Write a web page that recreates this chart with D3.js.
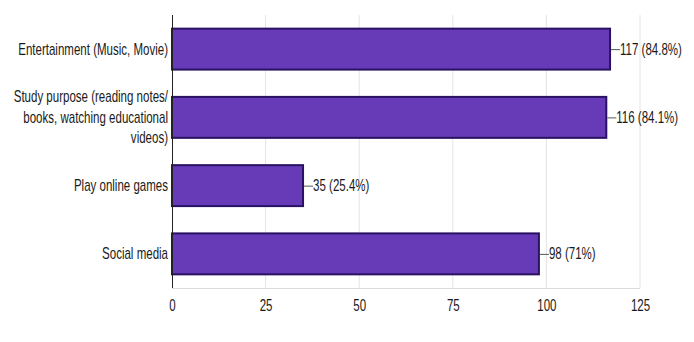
<!DOCTYPE html>
<html>
<head>
<meta charset="utf-8">
<script src="https://cdn.jsdelivr.net/npm/d3@7"></script>
<style>
  body { margin: 0; background: #fff; }
  text { font-family: "Liberation Sans", Arial, sans-serif; fill: #1a1a1a; }
</style>
</head>
<body>
<div id="chart"></div>
<script>
var w = 694;
var h = 342;
var squeeze = 0.72; // the picture's lettering is narrow
var fontSize = "16px";

// data
var categories = [
    ["Entertainment (Music, Movie)"],
    ["Study purpose (reading notes/", "books, watching educational", "videos)"],
    ["Play online games"],
    ["Social media"]
];
var counts = [117, 116, 35, 98];
var percents = ["84.8%", "84.1%", "25.4%", "71%"];
var xTicks = [0, 25, 50, 75, 100, 125];

var margin = {top: 15, right: 54, bottom: 54, left: 172};

var svg = d3.select("#chart")
    .append("svg")
    .attr("width", w)
    .attr("height", h);

var xScale = d3.scaleLinear()
    .domain([0, 125])
    .range([margin.left, w - margin.right]);

var yScale = d3.scaleBand()
    .domain(d3.range(categories.length))
    .range([margin.top, h - margin.bottom])
    .paddingInner(0.4)
    .paddingOuter(0.2);

// grid lines
svg.append("g")
    .selectAll("line")
    .data(xTicks.slice(1))
    .enter()
    .append("line")
    .attr("x1", d => xScale(d))
    .attr("x2", d => xScale(d))
    .attr("y1", margin.top)
    .attr("y2", h - margin.bottom)
    .attr("stroke", "#e4e4e4")
    .attr("stroke-width", 1);

svg.append("line")
    .attr("x1", margin.left)
    .attr("x2", xScale(125))
    .attr("y1", h - margin.bottom + 0.5)
    .attr("y2", h - margin.bottom + 0.5)
    .attr("stroke", "#dcdcdc");

// x axis
var xAxis = d3.axisBottom(xScale)
    .tickValues(xTicks)
    .tickSize(0)
    .tickPadding(12);

var gx = svg.append("g")
    .attr("transform", `translate(0, ${h - margin.bottom})`)
    .call(xAxis);
gx.select(".domain").remove();
gx.selectAll("text")
    .style("font-size", fontSize)
    .style("font-family", "\"Liberation Sans\", Arial, sans-serif")
    .attr("fill", "#1a1a1a")
    .attr("transform", `scale(${squeeze},1)`);

// bars
var idx = d3.range(counts.length);

svg.selectAll("rect.bar")
    .data(idx)
    .enter()
    .append("rect")
    .attr("class", "bar")
    .attr("x", xScale(0))
    .attr("y", i => yScale(i))
    .attr("width", i => xScale(counts[i]) - xScale(0))
    .attr("height", yScale.bandwidth())
    .attr("fill", "#673ab7")
    .attr("stroke", "#2a1263")
    .attr("stroke-width", 2);

// y axis line
svg.append("line")
    .attr("x1", margin.left + 0.5)
    .attr("x2", margin.left + 0.5)
    .attr("y1", margin.top)
    .attr("y2", h - margin.bottom)
    .attr("stroke", "#222")
    .attr("stroke-width", 1);

// category labels
var lineH = 20.5;
svg.selectAll("text.cat")
    .data(idx)
    .enter()
    .append("text")
    .attr("class", "cat")
    .attr("text-anchor", "end")
    .attr("transform", `translate(${margin.left - 4},0) scale(${squeeze},1)`)
    .style("font-size", fontSize)
    .each(function (i) {
        var lines = categories[i];
        var cy = yScale(i) + yScale.bandwidth() / 2;
        var y0 = cy - (lines.length - 1) * lineH / 2;
        d3.select(this).selectAll("tspan")
            .data(lines)
            .enter()
            .append("tspan")
            .attr("x", 0)
            .attr("y", (d, j) => y0 + j * lineH)
            .attr("dy", "0.35em")
            .text(d => d);
    });

// value labels with connector
svg.selectAll("line.conn")
    .data(idx)
    .enter()
    .append("line")
    .attr("class", "conn")
    .attr("x1", i => xScale(counts[i]) + 1)
    .attr("x2", i => xScale(counts[i]) + 10)
    .attr("y1", i => yScale(i) + yScale.bandwidth() / 2 + 0.5)
    .attr("y2", i => yScale(i) + yScale.bandwidth() / 2 + 0.5)
    .attr("stroke", "#555")
    .attr("stroke-width", 1);

svg.selectAll("text.val")
    .data(idx)
    .enter()
    .append("text")
    .attr("class", "val")
    .attr("transform", i => `translate(${xScale(counts[i]) + 10},0) scale(${squeeze},1)`)
    .attr("x", 0)
    .attr("y", i => yScale(i) + yScale.bandwidth() / 2)
    .attr("dy", "0.35em")
    .style("font-size", fontSize)
    .text(i => `${counts[i]} (${percents[i]})`);
</script>
</body>
</html>
